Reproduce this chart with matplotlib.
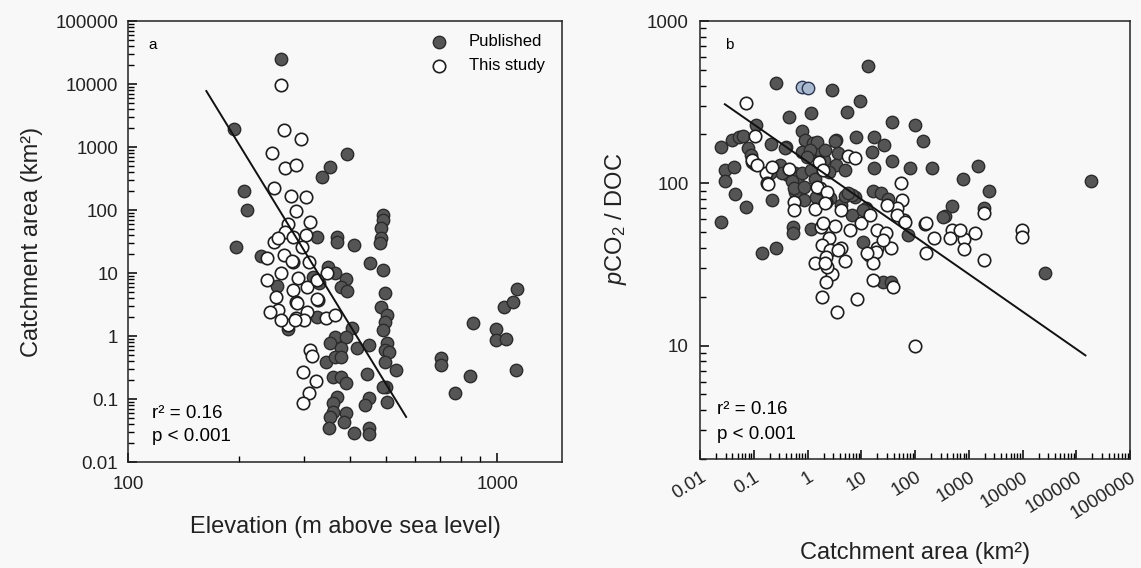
import matplotlib
matplotlib.use("Agg")
import matplotlib.pyplot as plt
from matplotlib.ticker import LogLocator, NullFormatter

plt.rcParams['font.family'] = 'Liberation Sans'
plt.rcParams['mathtext.fontset'] = 'custom'
plt.rcParams['mathtext.rm'] = 'Liberation Sans'
plt.rcParams['mathtext.it'] = 'Liberation Sans:italic'

# ---- panel a: elevation vs catchment area ----
elev_pub = [260, 194, 206, 210, 336, 352, 392, 325, 368, 368,
            410, 491, 491, 485, 485, 482, 196, 229, 453, 491,
            497, 485, 503, 497, 491, 503, 497, 510, 497, 532,
            500, 503, 705, 705, 769, 845, 861, 994, 994, 1057,
            1045, 1104, 1132, 1125, 348, 364, 317, 329, 390, 378,
            392, 325, 271, 253, 405, 364, 353, 390, 378, 417,
            450, 344, 364, 378, 359, 378, 390, 444, 491, 368,
            450, 439, 359, 390, 359, 353, 385, 351, 410, 450, 450]
area_pub = [25000, 1900, 200, 100, 340, 490, 780, 37, 37, 31,
            28, 83, 69, 52, 36, 30, 26, 18.6, 14.4, 11.2,
            4.8, 2.9, 2.15, 1.67, 1.25, 0.77, 0.6, 0.56, 0.39, 0.29,
            0.155, 0.09, 0.45, 0.35, 0.125, 0.23, 1.6, 1.3, 0.86, 0.9,
            2.9, 3.5, 5.5, 0.29, 12.4, 10, 8.6, 6.9, 8.0, 6.0,
            5.2, 2.0, 1.29, 6.2, 1.34, 0.96, 0.77, 0.96, 0.65, 0.65,
            0.72, 0.39, 0.46, 0.46, 0.22, 0.22, 0.18, 0.25, 0.155, 0.108,
            0.104, 0.08, 0.086, 0.06, 0.062, 0.052, 0.043, 0.035, 0.029, 0.035, 0.028]

elev_this = [260, 265, 294, 246, 266, 285, 249, 277, 304, 285,
             311, 271, 266, 280, 304, 249, 255, 238, 265, 280,
             309, 260, 289, 238, 252, 280, 305, 285, 255, 243,
             305, 285, 300, 344, 364, 327, 346, 325, 311, 315,
             298, 323, 309, 298, 271, 287, 325, 278, 284, 260, 296]
area_this = [9500, 1860, 1340, 800, 465, 518, 223, 167, 161, 96,
             65, 60, 45, 37, 40, 31, 36, 17.3, 19, 15,
             15, 10, 8.3, 7.7, 4.2, 5.4, 6.0, 3.5, 2.6, 2.4,
             2.4, 1.93, 1.8, 1.93, 2.15, 3.7, 10, 7.7, 0.6, 0.48,
             0.27, 0.19, 0.125, 0.086, 1.5, 3.3, 3.9, 15.5, 1.8, 1.8, 26]

fit_a_x = [163, 567]
fit_a_y = [7740, 0.052]

a_xticks = [100, 1000]
a_xlabels = ['100', '1000']
a_yticks = [0.01, 0.1, 1, 10, 100, 1000, 10000, 100000]
a_ylabels = ['0.01', '0.1', '1', '10', '100', '1000', '10000', '100000']

# ---- panel b: catchment area vs pCO2/DOC ----
area_pub_b = [13.4, 0.26, 2.87, 9.55, 5.46, 1.17, 0.454, 0.11, 37.6, 101,
              142, 0.0246, 0.0394, 0.0532, 0.0632, 0.078, 0.089, 0.093, 0.0292, 0.043,
              0.0292, 0.21, 0.399, 0.793, 0.902, 1.27, 0.793, 1.07, 1.79, 3.41,
              3.72, 3.41, 5.01, 8.04, 17.4, 26.7, 16.0, 37.6, 17.4, 81.4,
              209, 1503, 791, 2410, 191000, 0.249, 0.309, 0.435, 0.587, 0.668,
              0.0246, 0.0449, 0.072, 0.219, 0.587, 0.865, 1.45, 2.64, 4.23, 5.01,
              7.70, 16.7, 23.5, 31.7, 6.77, 12.3, 0.539, 0.539, 1.17, 10.8,
              74.7, 365, 493, 1945, 0.143, 0.26, 25.6, 36.1, 26600, 1.51,
              1.12, 0.984, 0.516, 0.562, 0.793, 0.865, 1.17, 1.39, 2.04, 2.52,
              0.383, 0.336, 0.201, 3.27, 6.77, 2.13, 5.70, 10.8, 335]
ratio_pub_b = [527, 414, 375, 321, 274, 270, 255, 228, 238, 228,
               182, 167, 184, 192, 195, 164, 149, 135, 120, 126,
               104, 174, 167, 209, 184, 177, 155, 149, 155, 184,
               153, 129, 120, 192, 192, 172, 155, 137, 124, 124,
               124, 127, 107, 89.2, 103, 120, 129, 112, 115, 100,
               57.5, 85.5, 71.1, 78.5, 88.0, 78.5, 82.0, 80.8, 73.1, 83.1,
               82.0, 89.2, 86.7, 79.6, 63.5, 70.1, 53.5, 49.1, 52.0, 43.2,
               47.7, 62.6, 72.1, 70.1, 37.0, 40.2, 24.8, 24.5, 28.2, 179,
               160, 145, 104, 93.1, 115, 94.4, 120, 107, 139, 117,
               164, 115, 115, 182, 84.3, 160, 86.7, 68.1, 61.7]

area_blue_b = [0.793, 1.03]
ratio_blue_b = [392, 386]

area_this_b = [0.072, 0.106, 0.106, 0.169, 0.177, 0.454, 1.64, 5.70, 7.70, 55.3,
               1.72, 1.39, 2.22, 0.562, 0.562, 4.23, 57.8, 46.6, 63.0, 155,
               228, 493, 452, 825, 1321, 1945, 9910, 9910, 1.79, 3.27,
               6.21, 9.96, 19.8, 29.1, 2.52, 4.23, 19.8, 36.1, 1.87, 2.64,
               2.22, 5.01, 1.39, 14.0, 18.9, 16.7, 16.7, 2.87, 2.22, 1.87,
               8.39, 3.56, 39.3, 101, 162, 825, 1945, 0.093, 0.115, 0.219,
               0.185, 1.51, 2.32, 2.13, 2.32, 1.95, 1.95, 14.6, 30.3, 46.6,
               65.6, 25.6, 12.9, 3.72, 2.13, 162, 695]
ratio_this_b = [312, 195, 131, 115, 100, 122, 135, 147, 143, 101,
                93.1, 69.1, 76.3, 76.3, 68.1, 68.1, 78.5, 70.1, 59.1, 55.8,
                45.8, 51.3, 45.8, 45.1, 49.1, 65.3, 51.3, 46.4, 53.5, 54.3,
                51.3, 56.6, 51.3, 49.1, 45.8, 40.2, 39.7, 40.2, 41.4, 38.6,
                34.9, 33.0, 32.1, 35.9, 37.5, 32.1, 25.5, 27.8, 24.5, 20.0,
                19.5, 16.2, 22.8, 10, 37.0, 39.1, 33.5, 139, 129, 126,
                98.6, 94.4, 88.0, 75.3, 30.3, 120, 56.6, 63.5, 73.1, 63.5,
                57.5, 44.5, 37.0, 38.6, 32.5, 56.6, 51.3]

fit_b_x = [0.029, 148000]
fit_b_y = [307, 8.7]

b_xticks = [0.01, 0.1, 1, 10, 100, 1000, 10000, 100000, 1000000]
b_xlabels = ['0.01', '0.1', '1', '10', '100', '1000', '10000', '100000', '1000000']
b_yticks = [10, 100, 1000]
b_ylabels = ['10', '100', '1000']

BG = '#f8f8f8'
pub_kw = dict(s=80, facecolor='#555555', edgecolor='#2b2b2b', linewidths=1.0, zorder=3)
this_kw = dict(s=80, facecolor='white', edgecolor='#1e1e1e', linewidths=1.2, zorder=3)

fig = plt.figure(figsize=(11.41, 5.68), dpi=100, facecolor=BG)
ax_a = fig.add_axes([0.1122, 0.1866, 0.3804, 0.7764])
ax_b = fig.add_axes([0.6135, 0.1919, 0.3769, 0.7711])


def style(ax):
    ax.set_facecolor(BG)
    ax.set_xscale('log')
    ax.set_yscale('log')
    for s in ax.spines.values():
        s.set_linewidth(1.1)
        s.set_color('#222222')
    ax.tick_params(which='both', direction='in', top=False, right=False,
                   color='black', labelsize=13.5, labelcolor='#222222')
    ax.tick_params(which='major', length=6.5, width=1.1)
    ax.tick_params(which='minor', length=4, width=1.0)
    for axis in (ax.xaxis, ax.yaxis):
        axis.set_minor_locator(LogLocator(base=10, subs=range(2, 10), numticks=30))
        axis.set_minor_formatter(NullFormatter())


# panel a
style(ax_a)
ax_a.scatter(elev_pub, area_pub, label='Published', **pub_kw)
ax_a.scatter(elev_this, area_this, label='This study', **this_kw)
ax_a.plot(fit_a_x, fit_a_y, color='#111111', lw=1.4, zorder=4)
ax_a.set_xlim(100, 1500)
ax_a.set_ylim(0.01, 100000)
ax_a.set_xticks(a_xticks)
ax_a.set_xticklabels(a_xlabels)
ax_a.set_yticks(a_yticks)
ax_a.set_yticklabels(a_ylabels)
ax_a.tick_params(axis='x', which='major', pad=10)
ax_a.tick_params(axis='y', which='major', pad=7)
ax_a.set_xlabel('Elevation (m above sea level)', fontsize=17, color='#222222')
ax_a.xaxis.set_label_coords(0.5, -0.122)
ax_a.set_ylabel('Catchment area (km²)', fontsize=17, color='#222222')
ax_a.yaxis.set_label_coords(-0.196, 0.5)
ax_a.text(0.046, 0.946, 'a', transform=ax_a.transAxes, fontsize=11, va='center')
ax_a.text(0.055, 0.111, 'r² = 0.16', transform=ax_a.transAxes, fontsize=13.5, va='center')
ax_a.text(0.055, 0.057, 'p < 0.001', transform=ax_a.transAxes, fontsize=13.5, va='center')
ax_a.legend(loc='upper right', bbox_to_anchor=(0.975, 0.985), frameon=False,
            fontsize=12, handletextpad=0.8, labelspacing=0.55, borderaxespad=0)

# panel b
style(ax_b)
ax_b.scatter(area_pub_b, ratio_pub_b, **pub_kw)
ax_b.scatter(area_blue_b, ratio_blue_b, s=80, facecolor='#a9b9cf',
             edgecolor='#2b3550', linewidths=1.0, zorder=3)
ax_b.scatter(area_this_b, ratio_this_b, **this_kw)
ax_b.plot(fit_b_x, fit_b_y, color='#111111', lw=1.4, zorder=4)
ax_b.set_xlim(0.01, 1000000)
ax_b.set_ylim(2, 1000)
ax_b.set_xticks(b_xticks)
ax_b.set_xticklabels(b_xlabels, rotation=32, ha='right', rotation_mode='anchor')
ax_b.set_yticks(b_yticks)
ax_b.set_yticklabels(b_ylabels)
ax_b.tick_params(axis='x', which='major', pad=7)
ax_b.tick_params(axis='y', which='major', pad=8)
ax_b.set_xlabel('Catchment area (km²)', fontsize=17, color='#222222')
ax_b.xaxis.set_label_coords(0.5, -0.19)
ax_b.set_ylabel(r'$p$CO$_2$ / DOC', fontsize=17, color='#222222')
ax_b.yaxis.set_label_coords(-0.165, 0.548)
ax_b.text(0.058, 0.945, 'b', transform=ax_b.transAxes, fontsize=11, va='center')
ax_b.text(0.04, 0.112, 'r² = 0.16', transform=ax_b.transAxes, fontsize=13.5, va='center')
ax_b.text(0.04, 0.057, 'p < 0.001', transform=ax_b.transAxes, fontsize=13.5, va='center')

fig.savefig('out.png', dpi=100, facecolor=BG)
